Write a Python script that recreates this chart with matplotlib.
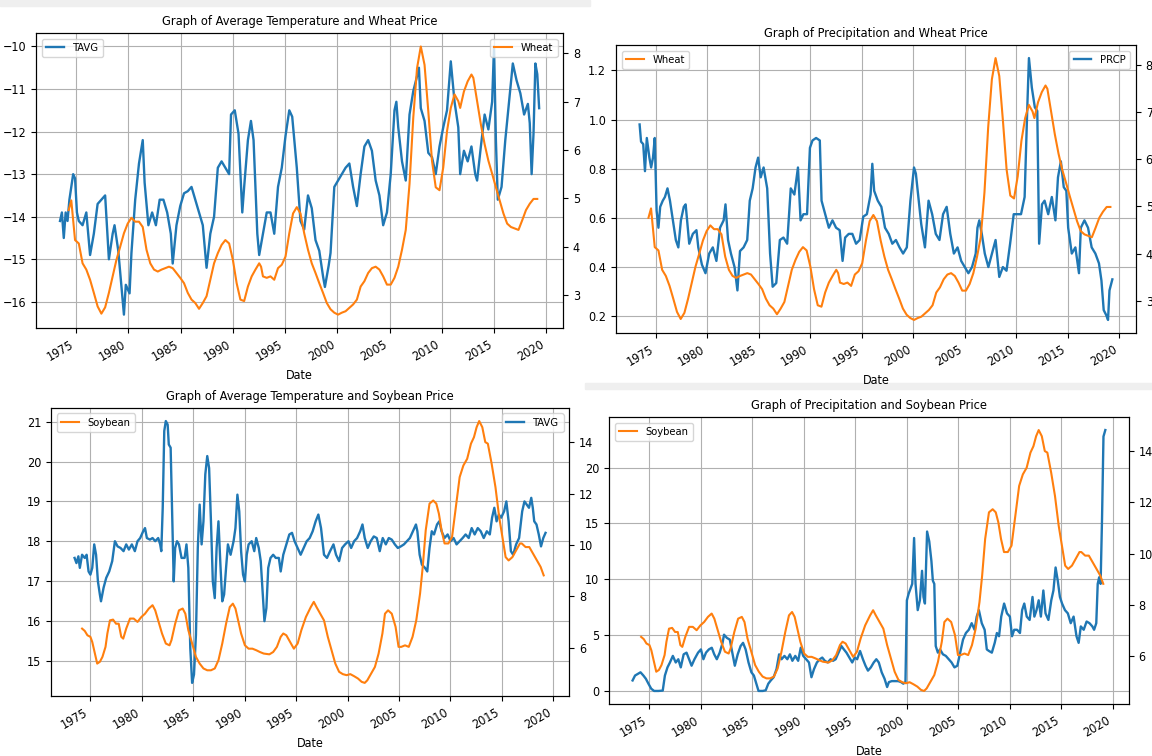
import pandas as pd
import matplotlib
matplotlib.use('Agg')
import matplotlib.pyplot as plt
import matplotlib.dates as mdates
from matplotlib.patches import Rectangle

plt.rcParams['font.family'] = ['DejaVu Sans']
plt.rcParams['font.stretch'] = 'condensed'

BLUE = '#1f77b4'
ORANGE = '#ff7f0e'

# --- average temperature (cold station) ---
tavg_cold_years = [1973.45, 1973.63, 1973.81, 1973.99, 1974.17, 1974.35, 1974.53, 1974.71, 1974.89, 1975.07,
                   1975.25, 1975.61, 1975.97, 1976.33, 1976.69, 1977.05, 1977.41, 1977.77, 1978.13, 1978.49,
                   1978.67, 1979.03, 1979.39, 1979.57, 1979.75, 1980.11, 1980.29, 1980.65, 1981.01, 1981.37,
                   1981.55, 1981.91, 1982.27, 1982.63, 1982.99, 1983.35, 1983.71, 1984.06, 1984.24, 1984.60,
                   1984.96, 1985.32, 1985.68, 1986.04, 1986.40, 1986.76, 1987.12, 1987.48, 1987.84, 1988.20,
                   1988.56, 1988.92, 1989.28, 1989.64, 1989.82, 1990.18, 1990.54, 1990.90, 1991.08, 1991.44,
                   1991.73, 1991.98, 1992.34, 1992.52, 1992.88, 1993.24, 1993.60, 1993.96, 1994.32, 1994.68,
                   1995.04, 1995.40, 1995.68, 1995.94, 1996.12, 1996.47, 1996.83, 1997.19, 1997.55, 1997.91,
                   1998.27, 1998.63, 1998.81, 1999.17, 1999.35, 1999.71, 2000.07, 2000.43, 2000.79, 2001.15,
                   2001.51, 2001.87, 2002.23, 2002.59, 2002.95, 2003.31, 2003.67, 2004.03, 2004.39, 2004.75,
                   2005.11, 2005.47, 2005.65, 2005.83, 2006.19, 2006.55, 2006.91, 2007.27, 2007.63, 2007.81,
                   2007.99, 2008.35, 2008.71, 2009.06, 2009.42, 2009.78, 2010.14, 2010.50, 2010.86, 2011.22,
                   2011.58, 2011.76, 2012.12, 2012.48, 2012.84, 2013.20, 2013.38, 2013.74, 2014.10, 2014.46,
                   2014.82, 2015.00, 2015.18, 2015.36, 2015.72, 2016.08, 2016.44, 2016.80, 2017.16, 2017.52,
                   2017.88, 2018.24, 2018.42, 2018.60, 2018.78, 2018.96, 2019.14, 2019.32]
tavg_cold = [-14.1, -13.9, -14.5, -13.9, -14.1, -13.6, -13.3, -13.0, -13.1, -13.9,
             -14.1, -14.2, -13.9, -14.9, -14.4, -13.7, -13.6, -13.5, -15.0, -14.4,
             -14.2, -14.8, -15.8, -16.3, -15.6, -15.8, -14.85, -13.6, -12.75, -12.2,
             -13.2, -14.2, -13.9, -14.2, -13.6, -13.6, -13.9, -14.4, -15.1, -14.2,
             -13.75, -13.45, -13.4, -13.3, -13.6, -13.9, -14.2, -15.2, -14.4, -14.0,
             -12.85, -12.7, -12.85, -13.0, -11.6, -11.5, -12.05, -13.9, -13.3, -12.2,
             -11.75, -12.2, -14.4, -14.9, -14.4, -13.9, -13.9, -14.4, -13.3, -12.85,
             -12.1, -11.5, -11.65, -12.35, -12.85, -14.1, -14.3, -13.5, -13.8, -14.55,
             -14.8, -15.4, -15.65, -15.15, -14.85, -13.3, -13.15, -13.0, -12.85, -12.75,
             -13.3, -13.75, -13.0, -12.35, -12.2, -12.45, -13.15, -13.5, -14.2, -13.9,
             -13.0, -11.5, -11.3, -11.9, -12.7, -13.15, -11.6, -11.05, -10.7, -10.5,
             -11.45, -11.75, -12.5, -12.6, -13.0, -12.35, -11.9, -11.5, -10.35, -11.3,
             -11.9, -13.0, -12.45, -12.7, -12.35, -13.0, -13.15, -12.35, -11.6, -11.95,
             -11.3, -10.0, -12.2, -13.6, -13.3, -12.2, -11.3, -10.4, -10.8, -11.1,
             -11.6, -11.35, -11.8, -13.0, -12.05, -10.4, -10.65, -11.45]

# --- wheat price ---
wheat_years = [1974.28, 1974.53, 1974.89, 1975.25, 1975.61, 1975.97, 1976.33, 1976.69, 1977.05, 1977.41,
               1977.77, 1978.13, 1978.49, 1978.85, 1979.21, 1979.57, 1979.93, 1980.29, 1980.65, 1981.01,
               1981.37, 1981.73, 1982.09, 1982.45, 1982.81, 1983.17, 1983.53, 1983.88, 1984.24, 1984.60,
               1984.96, 1985.32, 1985.68, 1986.04, 1986.40, 1986.76, 1987.12, 1987.48, 1987.84, 1988.20,
               1988.56, 1988.92, 1989.28, 1989.64, 1990.00, 1990.36, 1990.72, 1991.08, 1991.44, 1991.80,
               1992.16, 1992.52, 1992.70, 1992.88, 1993.24, 1993.60, 1993.96, 1994.32, 1994.68, 1995.04,
               1995.40, 1995.76, 1996.12, 1996.47, 1996.83, 1997.19, 1997.55, 1997.91, 1998.27, 1998.63,
               1998.99, 1999.35, 1999.71, 2000.07, 2000.43, 2000.79, 2001.15, 2001.51, 2001.87, 2002.23,
               2002.59, 2002.95, 2003.31, 2003.67, 2004.03, 2004.39, 2004.75, 2005.11, 2005.47, 2005.83,
               2006.19, 2006.55, 2006.91, 2007.27, 2007.63, 2007.99, 2008.35, 2008.71, 2009.06, 2009.42,
               2009.78, 2010.14, 2010.50, 2010.86, 2011.22, 2011.58, 2011.76, 2012.12, 2012.48, 2012.84,
               2013.02, 2013.38, 2013.74, 2014.10, 2014.46, 2014.82, 2015.18, 2015.54, 2015.90, 2016.26,
               2016.62, 2016.98, 2017.34, 2017.70, 2018.06, 2018.42, 2018.78, 2019.14]
wheat = [4.76, 4.96, 4.14, 4.07, 3.66, 3.53, 3.32, 3.05, 2.77, 2.62,
         2.75, 3.05, 3.39, 3.73, 4.0, 4.28, 4.48, 4.6, 4.52, 4.52,
         4.41, 3.94, 3.66, 3.53, 3.49, 3.53, 3.56, 3.59, 3.56, 3.46,
         3.36, 3.25, 3.05, 2.91, 2.84, 2.72, 2.84, 2.98, 3.32, 3.66,
         3.87, 4.04, 4.14, 4.07, 3.73, 3.25, 2.91, 2.88, 3.18, 3.39,
         3.53, 3.66, 3.59, 3.39, 3.36, 3.39, 3.32, 3.56, 3.63, 3.8,
         4.28, 4.69, 4.82, 4.69, 4.28, 3.94, 3.66, 3.46, 3.25, 3.05,
         2.84, 2.71, 2.64, 2.6, 2.64, 2.67, 2.74, 2.81, 2.91, 3.18,
         3.29, 3.46, 3.56, 3.59, 3.53, 3.39, 3.22, 3.22, 3.36, 3.59,
         3.94, 4.35, 5.3, 6.67, 7.69, 8.14, 7.76, 6.8, 5.78, 5.23,
         5.17, 5.64, 6.39, 6.87, 7.15, 7.01, 6.87, 7.21, 7.42, 7.56,
         7.49, 7.01, 6.53, 6.12, 5.78, 5.51, 5.23, 4.96, 4.69, 4.48,
         4.41, 4.38, 4.35, 4.55, 4.76, 4.89, 4.99, 4.99]

# --- precipitation (station 1) ---
prcp_a_years = [1973.42, 1973.56, 1973.77, 1973.94, 1974.12, 1974.37, 1974.54, 1974.72, 1974.89, 1975.07,
                1975.25, 1975.42, 1975.67, 1975.88, 1976.13, 1976.37, 1976.65, 1976.94, 1977.18, 1977.43,
                1977.71, 1977.89, 1978.24, 1978.59, 1978.94, 1979.12, 1979.47, 1979.82, 1980.18, 1980.53,
                1980.88, 1981.23, 1981.58, 1981.76, 1982.01, 1982.29, 1982.64, 1982.92, 1983.17, 1983.52,
                1983.87, 1984.12, 1984.40, 1984.68, 1984.93, 1985.18, 1985.46, 1985.81, 1986.09, 1986.34,
                1986.69, 1987.04, 1987.39, 1987.75, 1988.10, 1988.45, 1988.80, 1989.05, 1989.33, 1989.68,
                1989.96, 1990.21, 1990.56, 1990.92, 1991.09, 1991.44, 1991.80, 1992.15, 1992.50, 1992.85,
                1993.13, 1993.38, 1993.73, 1994.08, 1994.44, 1994.79, 1995.14, 1995.49, 1995.85, 1996.02,
                1996.20, 1996.55, 1996.90, 1997.25, 1997.61, 1997.96, 1998.31, 1998.66, 1999.01, 1999.37,
                1999.72, 2000.07, 2000.25, 2000.53, 2000.77, 2001.13, 2001.48, 2001.83, 2002.18, 2002.54,
                2002.89, 2003.24, 2003.59, 2003.94, 2004.30, 2004.65, 2005.00, 2005.35, 2005.70, 2006.06,
                2006.23, 2006.41, 2006.65, 2006.94, 2007.29, 2007.64, 2007.99, 2008.35, 2008.70, 2009.05,
                2009.40, 2009.75, 2010.11, 2010.46, 2010.81, 2011.09, 2011.23, 2011.51, 2011.80, 2012.04,
                2012.22, 2012.50, 2012.75, 2013.10, 2013.45, 2013.80, 2014.05, 2014.33, 2014.61, 2014.86,
                2015.04, 2015.39, 2015.74, 2016.09, 2016.27, 2016.62, 2016.97, 2017.32, 2017.68, 2018.03,
                2018.27, 2018.49, 2018.73, 2018.91, 2019.05, 2019.33]
prcp_a = [0.98, 0.91, 0.90, 0.79, 0.925, 0.845, 0.805, 0.845, 0.925, 0.63,
          0.56, 0.645, 0.67, 0.685, 0.72, 0.67, 0.59, 0.51, 0.48, 0.59,
          0.645, 0.655, 0.495, 0.535, 0.55, 0.48, 0.41, 0.375, 0.455, 0.48,
          0.425, 0.56, 0.59, 0.655, 0.51, 0.455, 0.40, 0.305, 0.465, 0.48,
          0.51, 0.67, 0.72, 0.805, 0.845, 0.765, 0.805, 0.72, 0.455, 0.32,
          0.335, 0.51, 0.52, 0.495, 0.72, 0.695, 0.805, 0.59, 0.615, 0.615,
          0.885, 0.915, 0.925, 0.915, 0.67, 0.615, 0.56, 0.59, 0.56, 0.55,
          0.425, 0.52, 0.535, 0.535, 0.495, 0.51, 0.605, 0.615, 0.695, 0.82,
          0.71, 0.67, 0.645, 0.56, 0.535, 0.495, 0.51, 0.48, 0.455, 0.48,
          0.67, 0.805, 0.78, 0.67, 0.575, 0.48, 0.67, 0.615, 0.535, 0.51,
          0.615, 0.645, 0.535, 0.455, 0.48, 0.425, 0.40, 0.375, 0.40, 0.455,
          0.56, 0.59, 0.535, 0.455, 0.40, 0.455, 0.51, 0.36, 0.40, 0.385,
          0.495, 0.615, 0.615, 0.615, 0.685, 1.075, 1.25, 1.13, 1.05, 1.035,
          0.495, 0.655, 0.67, 0.615, 0.685, 0.59, 0.765, 0.83, 0.725, 0.71,
          0.56, 0.455, 0.48, 0.375, 0.56, 0.59, 0.56, 0.48, 0.455, 0.415,
          0.345, 0.225, 0.205, 0.185, 0.305, 0.35]

# --- average temperature (warm station) ---
tavg_warm_years = [1973.46, 1973.64, 1973.83, 1973.97, 1974.19, 1974.45, 1974.63, 1974.82, 1975.00, 1975.18,
                   1975.37, 1975.55, 1975.73, 1975.92, 1976.03, 1976.28, 1976.54, 1976.83, 1977.12, 1977.38,
                   1977.64, 1977.93, 1978.22, 1978.48, 1978.74, 1979.03, 1979.32, 1979.58, 1979.84, 1980.13,
                   1980.31, 1980.49, 1980.79, 1981.04, 1981.30, 1981.59, 1981.78, 1981.89, 1982.03, 1982.18,
                   1982.33, 1982.51, 1982.62, 1982.80, 1982.95, 1983.10, 1983.24, 1983.42, 1983.61, 1983.86,
                   1984.16, 1984.34, 1984.52, 1984.71, 1984.89, 1985.07, 1985.26, 1985.44, 1985.62, 1985.81,
                   1985.99, 1986.17, 1986.36, 1986.54, 1986.72, 1986.90, 1987.09, 1987.27, 1987.45, 1987.64,
                   1987.82, 1988.00, 1988.19, 1988.37, 1988.63, 1988.92, 1989.10, 1989.29, 1989.47, 1989.65,
                   1989.84, 1990.02, 1990.20, 1990.38, 1990.68, 1990.93, 1991.12, 1991.37, 1991.56, 1991.74,
                   1991.92, 1992.11, 1992.29, 1992.51, 1992.77, 1993.02, 1993.32, 1993.50, 1993.75, 1994.05,
                   1994.34, 1994.60, 1994.85, 1995.15, 1995.44, 1995.73, 1996.03, 1996.32, 1996.61, 1996.90,
                   1997.16, 1997.42, 1997.71, 1998.00, 1998.30, 1998.63, 1998.88, 1999.18, 1999.47, 1999.76,
                   2000.09, 2000.35, 2000.64, 2000.93, 2001.23, 2001.45, 2001.67, 2001.96, 2002.25, 2002.55,
                   2002.84, 2003.13, 2003.42, 2003.72, 2004.01, 2004.30, 2004.60, 2004.89, 2005.18, 2005.48,
                   2005.77, 2006.06, 2006.35, 2006.65, 2006.79, 2007.01, 2007.23, 2007.53, 2007.75, 2007.97,
                   2008.19, 2008.41, 2008.70, 2008.92, 2009.14, 2009.43, 2009.73, 2010.02, 2010.31, 2010.60,
                   2010.90, 2011.19, 2011.48, 2011.78, 2012.07, 2012.36, 2012.66, 2012.95, 2013.24, 2013.54,
                   2013.83, 2014.05, 2014.27, 2014.49, 2014.71, 2014.93, 2015.22, 2015.44, 2015.66, 2015.88,
                   2016.10, 2016.39, 2016.68, 2016.98, 2017.20, 2017.42, 2017.64, 2017.86, 2018.01, 2018.15,
                   2018.37, 2018.59, 2018.81, 2019.03, 2019.25]
tavg_warm = [17.58, 17.45, 17.62, 17.33, 17.66, 17.58, 17.66, 17.24, 17.16, 17.33,
             17.92, 17.66, 16.99, 16.66, 16.49, 16.83, 17.08, 17.24, 17.5, 18.0,
             17.87, 17.83, 17.75, 17.92, 17.79, 17.92, 17.75, 18.0, 18.08, 18.25,
             18.33, 18.08, 18.04, 18.08, 18.0, 18.08, 17.92, 17.75, 18.84, 20.77,
             21.02, 20.93, 20.43, 20.35, 18.67, 16.99, 17.83, 18.0, 17.92, 17.58,
             17.58, 17.92, 17.33, 15.32, 14.44, 14.65, 15.65, 17.83, 18.92, 17.92,
             18.5, 19.68, 20.14, 19.84, 18.5, 16.99, 16.57, 17.83, 18.5, 17.41,
             16.49, 16.66, 17.33, 17.92, 17.66, 18.0, 18.33, 19.17, 18.75, 17.75,
             17.16, 16.99, 17.66, 17.92, 18.0, 17.75, 18.08, 17.83, 17.5, 16.74,
             15.99, 16.32, 17.33, 17.58, 17.66, 17.58, 17.58, 17.24, 17.66, 17.92,
             18.17, 18.21, 18.0, 17.83, 17.66, 17.83, 18.0, 18.08, 18.25, 18.5,
             18.67, 18.33, 17.66, 17.58, 17.75, 17.92, 17.66, 17.5, 17.83, 17.92,
             18.0, 17.83, 18.0, 18.08, 18.25, 18.42, 18.08, 17.83, 18.0, 18.12,
             18.08, 17.75, 18.08, 17.92, 18.08, 18.04, 17.92, 17.83, 17.87, 17.92,
             18.0, 18.08, 18.25, 18.42, 18.25, 17.66, 17.41, 17.33, 17.24, 17.83,
             18.25, 18.17, 18.42, 18.5, 18.25, 18.08, 18.17, 18.0, 18.08, 17.92,
             18.0, 18.08, 18.17, 18.08, 18.33, 18.17, 18.33, 18.25, 18.08, 18.25,
             18.17, 18.59, 18.84, 18.5, 18.67, 18.59, 18.75, 19.0, 18.5, 17.75,
             17.66, 17.92, 18.08, 18.75, 19.0, 18.92, 18.84, 19.09, 18.84, 18.5,
             18.42, 18.17, 17.87, 18.08, 18.21]

# --- soybean price ---
soy_years = [1974.19, 1974.45, 1974.71, 1975.00, 1975.18, 1975.44, 1975.66, 1975.92, 1976.17, 1976.47,
             1976.65, 1976.90, 1977.20, 1977.49, 1977.75, 1978.00, 1978.19, 1978.48, 1978.85, 1979.21,
             1979.58, 1979.95, 1980.31, 1980.68, 1981.04, 1981.30, 1981.59, 1981.96, 1982.33, 1982.69,
             1982.88, 1983.24, 1983.61, 1983.97, 1984.23, 1984.52, 1984.89, 1985.26, 1985.62, 1985.99,
             1986.36, 1986.72, 1987.09, 1987.45, 1987.82, 1988.19, 1988.55, 1988.85, 1989.10, 1989.36,
             1989.65, 1990.02, 1990.38, 1990.75, 1991.12, 1991.48, 1991.85, 1992.40, 1992.77, 1993.13,
             1993.50, 1993.75, 1994.05, 1994.41, 1994.78, 1995.15, 1995.51, 1995.95, 1996.43, 1996.72,
             1996.98, 1997.34, 1997.71, 1998.08, 1998.44, 1998.81, 1999.18, 1999.54, 1999.91, 2000.27,
             2000.64, 2001.01, 2001.37, 2001.67, 2001.92, 2002.29, 2002.66, 2003.02, 2003.39, 2003.64,
             2003.94, 2004.30, 2004.67, 2004.96, 2005.22, 2005.59, 2005.95, 2006.32, 2006.68, 2007.05,
             2007.31, 2007.60, 2007.97, 2008.33, 2008.63, 2008.88, 2009.14, 2009.43, 2009.80, 2010.16,
             2010.53, 2010.90, 2011.26, 2011.63, 2012.00, 2012.29, 2012.55, 2012.80, 2013.10, 2013.39,
             2013.64, 2014.01, 2014.38, 2014.74, 2015.11, 2015.37, 2015.66, 2016.03, 2016.39, 2016.76,
             2016.94, 2017.31, 2017.67, 2018.04, 2018.41, 2018.77, 2019.07]
soy = [6.75, 6.66, 6.49, 6.43, 6.23, 5.78, 5.39, 5.46, 5.65, 6.04,
       6.56, 7.07, 7.1, 6.94, 6.94, 6.43, 6.36, 6.75, 7.14, 7.14,
       7.01, 7.2, 7.33, 7.53, 7.66, 7.46, 7.07, 6.56, 6.17, 6.1,
       6.3, 6.94, 7.46, 7.53, 7.33, 6.69, 6.17, 5.65, 5.39, 5.2,
       5.13, 5.13, 5.2, 5.52, 6.17, 6.94, 7.59, 7.72, 7.53, 7.07,
       6.56, 6.1, 5.97, 5.97, 5.91, 5.84, 5.78, 5.75, 5.84, 6.04,
       6.43, 6.56, 6.49, 6.23, 5.97, 6.17, 6.69, 7.2, 7.59, 7.79,
       7.59, 7.33, 7.07, 6.43, 5.91, 5.39, 5.07, 4.98, 4.94, 4.98,
       4.9, 4.81, 4.68, 4.64, 4.74, 5.0, 5.26, 5.78, 6.56, 7.33,
       7.46, 7.33, 6.82, 6.04, 6.04, 6.1, 6.04, 6.43, 7.07, 8.11,
       9.15, 10.57, 11.61, 11.73, 11.61, 11.22, 10.57, 10.06, 10.06, 10.31,
       11.48, 12.64, 13.09, 13.35, 13.94, 14.19, 14.58, 14.82, 14.58, 14.0,
       13.94, 13.16, 12.25, 11.09, 10.18, 9.53, 9.4, 9.53, 9.79, 10.06,
       10.06, 9.92, 9.92, 9.66, 9.4, 9.15, 8.82]

# --- precipitation (station 2) ---
prcp_b_years = [1973.36, 1973.60, 1973.85, 1974.13, 1974.41, 1974.65, 1974.90, 1975.17, 1975.45, 1975.87,
                1976.29, 1976.50, 1976.75, 1976.99, 1977.27, 1977.55, 1977.80, 1978.04, 1978.32, 1978.60,
                1978.85, 1979.09, 1979.37, 1979.72, 1980.00, 1980.24, 1980.49, 1980.77, 1981.05, 1981.29,
                1981.54, 1981.82, 1982.10, 1982.24, 1982.52, 1982.80, 1983.04, 1983.29, 1983.57, 1983.85,
                1984.09, 1984.34, 1984.62, 1984.90, 1985.14, 1985.38, 1985.59, 1986.01, 1986.29, 1986.54,
                1986.78, 1987.06, 1987.34, 1987.59, 1987.83, 1988.11, 1988.39, 1988.64, 1988.88, 1989.16,
                1989.44, 1989.69, 1989.93, 1990.21, 1990.49, 1990.73, 1990.98, 1991.26, 1991.54, 1991.78,
                1992.03, 1992.31, 1992.59, 1992.83, 1993.08, 1993.36, 1993.64, 1993.88, 1994.13, 1994.41,
                1994.69, 1994.93, 1995.17, 1995.45, 1995.73, 1995.98, 1996.22, 1996.50, 1996.78, 1997.03,
                1997.27, 1997.55, 1997.83, 1998.08, 1998.25, 1998.53, 1998.88, 1999.16, 1999.44, 1999.65,
                1999.86, 2000.00, 2000.17, 2000.35, 2000.52, 2000.70, 2000.84, 2001.05, 2001.26, 2001.47,
                2001.61, 2001.75, 2001.96, 2002.17, 2002.38, 2002.52, 2002.66, 2002.80, 2003.01, 2003.22,
                2003.50, 2003.78, 2004.06, 2004.34, 2004.62, 2004.90, 2005.17, 2005.45, 2005.73, 2006.01,
                2006.29, 2006.57, 2006.78, 2006.99, 2007.27, 2007.55, 2007.76, 2007.97, 2008.25, 2008.53,
                2008.74, 2008.95, 2009.16, 2009.44, 2009.72, 2010.00, 2010.21, 2010.42, 2010.70, 2010.98,
                2011.19, 2011.40, 2011.64, 2011.92, 2012.20, 2012.38, 2012.59, 2012.80, 2013.01, 2013.25,
                2013.46, 2013.74, 2014.02, 2014.23, 2014.44, 2014.65, 2014.86, 2015.07, 2015.35, 2015.63,
                2015.91, 2016.19, 2016.47, 2016.68, 2016.89, 2017.17, 2017.45, 2017.73, 2018.01, 2018.18,
                2018.39, 2018.53, 2018.67, 2018.81, 2018.95, 2019.09, 2019.27]
prcp_b = [0.94, 1.38, 1.52, 1.67, 1.38, 1.09, 0.65, 0.2, 0.0, 0.0,
          0.03, 1.38, 2.11, 2.55, 3.14, 2.55, 2.84, 2.11, 3.28, 3.43,
          2.84, 2.26, 2.84, 3.43, 3.72, 2.84, 3.43, 3.72, 3.87, 3.28,
          2.84, 3.43, 4.31, 5.04, 4.75, 4.6, 3.43, 2.26, 3.28, 4.02,
          4.31, 3.72, 2.55, 1.67, 1.38, 0.65, 0.0, 0.0, 0.06, 0.65,
          0.94, 1.23, 1.96, 3.28, 2.84, 3.14, 2.84, 3.28, 2.7, 3.14,
          2.7, 3.87, 3.14, 2.84, 2.55, 1.23, 1.96, 2.55, 2.84, 2.99,
          2.7, 2.55, 2.84, 2.7, 2.84, 3.43, 4.02, 3.72, 3.43, 2.99,
          2.55, 2.99, 2.84, 3.58, 2.84, 2.26, 1.82, 2.11, 2.55, 2.84,
          2.55, 1.67, 1.09, 0.35, 0.79, 0.88, 0.88, 0.88, 0.79, 0.65,
          0.79, 8.12, 8.71, 9.15, 9.59, 13.7, 9.59, 7.24, 8.12, 10.76,
          8.42, 7.83, 14.28, 13.4, 11.64, 9.88, 9.59, 4.02, 3.43, 3.72,
          3.28, 3.14, 2.84, 2.55, 2.11, 2.26, 3.43, 4.6, 5.19, 5.48,
          6.07, 5.48, 6.66, 7.24, 6.07, 5.48, 3.72, 3.58, 3.43, 4.31,
          5.19, 4.9, 6.66, 7.83, 6.95, 6.66, 4.9, 5.48, 5.48, 5.19,
          7.24, 7.83, 6.66, 6.36, 8.42, 6.66, 7.24, 8.12, 6.66, 9.0,
          6.95, 6.36, 8.12, 9.0, 11.06, 9.88, 8.42, 7.83, 7.24, 6.95,
          6.07, 6.66, 4.9, 4.31, 5.78, 5.48, 6.22, 6.07, 5.78, 5.48,
          6.07, 9.59, 10.18, 9.59, 15.45, 22.79, 23.37]


def to_dates(years):
    return [pd.Timestamp(int(y), 1, 1) + pd.Timedelta(days=(y - int(y)) * 365.25) for y in years]


def panel(rect, title, blue, orange, blue_leg, orange_leg):
    ax = fig.add_axes(rect)
    ax.plot(to_dates(blue[0]), blue[1], color=BLUE, lw=1.7, label=blue[2])
    ax.grid(True, color='#b0b0b0', lw=0.8)
    ax2 = ax.twinx()
    ax2.plot(to_dates(orange[0]), orange[1], color=ORANGE, lw=1.5, label=orange[2])
    ax.xaxis.set_major_locator(mdates.YearLocator(5))
    ax.xaxis.set_major_formatter(mdates.DateFormatter('%Y'))
    for lab in ax.get_xticklabels():
        lab.set_rotation(30)
        lab.set_ha('right')
    ax.tick_params(labelsize=9)
    ax2.tick_params(labelsize=9)
    ax.set_xlabel('Date', fontsize=9)
    ax.set_title(title, fontsize=9.2)
    if blue_leg:
        ax.legend(loc=blue_leg, fontsize=8, handlelength=1.6)
    if orange_leg:
        ax2.legend(loc=orange_leg, fontsize=8, handlelength=1.6)
    return ax, ax2


fig = plt.figure(figsize=(11.52, 7.56), dpi=100)

# thin separators left over from the stitched screenshots
fig.add_artist(Rectangle((0.0, 0.992), 0.512, 0.008, transform=fig.transFigure,
                         color='#efefef', zorder=-1))
fig.add_artist(Rectangle((0.508, 0.486), 0.492, 0.007, transform=fig.transFigure,
                         color='#efefef', zorder=-1))

panel([0.0313, 0.5661, 0.4575, 0.3902], 'Graph of Average Temperature and Wheat Price',
      (tavg_cold_years, tavg_cold, 'TAVG'), (wheat_years, wheat, 'Wheat'),
      'upper left', 'upper right')
panel([0.5347, 0.5595, 0.4514, 0.3810], 'Graph of Precipitation and Wheat Price',
      (prcp_a_years, prcp_a, 'PRCP'), (wheat_years, wheat, 'Wheat'),
      'upper right', 'upper left')
panel([0.0443, 0.0794, 0.4497, 0.3810], 'Graph of Average Temperature and Soybean Price',
      (tavg_warm_years, tavg_warm, 'TAVG'), (soy_years, soy, 'Soybean'),
      'upper right', 'upper left')
panel([0.5286, 0.0688, 0.4514, 0.3796], 'Graph of Precipitation and Soybean Price',
      (prcp_b_years, prcp_b, 'PRCP'), (soy_years, soy, 'Soybean'),
      None, 'upper left')

fig.savefig('out.png', dpi=100)
